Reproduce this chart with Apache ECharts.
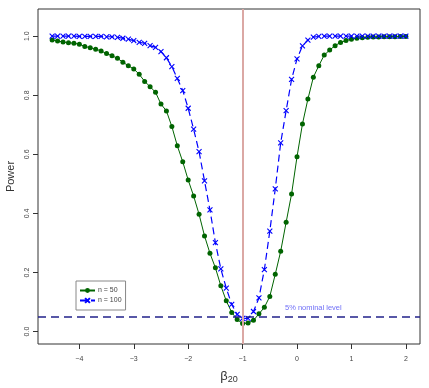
<!DOCTYPE html>
<html>
<head>
<meta charset="utf-8">
<script src="https://cdn.jsdelivr.net/npm/echarts@6/dist/echarts.min.js"></script>
<style>
  html, body { margin: 0; padding: 0; background: #fff; }
  #chart { width: 429px; height: 388px; }
</style>
</head>
<body>
<div id="chart"></div>
<script>
// beta20 grid used in the simulation
const betas = [
  -4.5, -4.4, -4.3, -4.2, -4.1, -4.0, -3.9, -3.8, -3.7, -3.6,
  -3.5, -3.4, -3.3, -3.2, -3.1, -3.0, -2.9, -2.8, -2.7, -2.6,
  -2.5, -2.4, -2.3, -2.2, -2.1, -2.0, -1.9, -1.8, -1.7, -1.6,
  -1.5, -1.4, -1.3, -1.2, -1.1, -1.0, -0.9, -0.8, -0.7, -0.6,
  -0.5, -0.4, -0.3, -0.2, -0.1, 0.0, 0.1, 0.2, 0.3, 0.4,
  0.5, 0.6, 0.7, 0.8, 0.9, 1.0, 1.1, 1.2, 1.3, 1.4,
  1.5, 1.6, 1.7, 1.8, 1.9, 2.0
];

// power, n = 50
const power50 = [
  0.987, 0.984, 0.980, 0.978, 0.976, 0.973, 0.965, 0.961, 0.956, 0.950,
  0.941, 0.934, 0.925, 0.912, 0.900, 0.889, 0.871, 0.847, 0.829, 0.810,
  0.770, 0.747, 0.694, 0.629, 0.575, 0.513, 0.459, 0.397, 0.324, 0.265,
  0.216, 0.155, 0.104, 0.065, 0.041, 0.027, 0.029, 0.038, 0.060, 0.082,
  0.119, 0.194, 0.272, 0.370, 0.466, 0.592, 0.703, 0.787, 0.861, 0.900,
  0.936, 0.953, 0.968, 0.979, 0.985, 0.990, 0.993, 0.995, 0.996, 0.997,
  0.997, 0.998, 0.998, 0.998, 0.999, 0.999
];

// power, n = 100
const power100 = [
  1.000, 1.000, 1.000, 1.000, 1.000, 0.999, 0.999, 0.999, 0.999, 0.999,
  0.998, 0.998, 0.996, 0.993, 0.990, 0.985, 0.979, 0.976, 0.968, 0.962,
  0.948, 0.927, 0.897, 0.857, 0.816, 0.756, 0.685, 0.609, 0.510, 0.412,
  0.301, 0.212, 0.147, 0.092, 0.058, 0.045, 0.045, 0.068, 0.114, 0.210,
  0.340, 0.483, 0.639, 0.748, 0.854, 0.923, 0.967, 0.987, 0.997, 0.999,
  1.000, 1.000, 1.000, 1.000, 1.000, 1.000, 1.000, 1.000, 1.000, 1.000,
  1.000, 1.000, 1.000, 1.000, 1.000, 1.000
];

const xTicks = [-4, -3, -2, -1, 0, 1, 2];
const yTicks = [0, 0.2, 0.4, 0.6, 0.8, 1.0];
const trueBeta = -1;
const nominal = 0.05;
const nominalLabel = '5% nominal level';
const nominalLabelAt = [0.3, 0.079];

const chart = echarts.init(document.getElementById('chart'));
const FONT = '"Liberation Sans", Arial, sans-serif';

const pts = (ys) => betas.map((b, i) => [b, ys[i]]);

chart.setOption({
  animation: false,
  textStyle: { fontFamily: FONT },
  grid: {
    left: 38, right: 9, top: 9, bottom: 44,
    show: true, borderColor: '#333', borderWidth: 1,
    outerBoundsMode: 'none',
  },
  legend: {
    data: ['n = 50', 'n = 100'],
    orient: 'vertical',
    left: 76, top: 281,
    padding: [6, 4, 6, 3],
    itemGap: 3,
    itemWidth: 15, itemHeight: 6,
    borderColor: '#888', borderWidth: 1,
    textStyle: { fontSize: 7, color: '#444', fontFamily: FONT, padding: [0, 0, 0, -2] },
  },
  xAxis: {
    type: 'value', min: -4.76, max: 2.26,
    name: '{b|β}{s|20}', nameLocation: 'middle', nameGap: 24,
    nameTextStyle: {
      rich: {
        b: { fontSize: 13, color: '#333', fontFamily: FONT },
        s: { fontSize: 9, color: '#333', fontFamily: FONT, padding: [7, 0, 0, 0] },
      },
    },
    axisLine: { show: false, onZero: false },
    axisTick: { show: true, length: 5, customValues: xTicks, lineStyle: { color: '#333' } },
    axisLabel: {
      customValues: xTicks, margin: 12, fontSize: 7, color: '#444',
      formatter: (v) => (v < 0 ? '\u2212' + Math.abs(v) : String(v)),
    },
    splitLine: { show: false },
  },
  yAxis: {
    type: 'value', min: -0.042, max: 1.092,
    name: 'Power', nameLocation: 'middle', nameGap: 19,
    nameTextStyle: { fontSize: 11, color: '#333' },
    axisLine: { show: false, onZero: false },
    axisTick: { show: true, length: 5, customValues: yTicks, lineStyle: { color: '#333' } },
    axisLabel: {
      customValues: yTicks, rotate: 90, margin: 7, fontSize: 7, color: '#444',
      formatter: (v) => v.toFixed(1),
    },
    splitLine: { show: false },
  },
  series: [
    {
      name: 'refs', type: 'line', data: [], z: 1, silent: true,
      markLine: {
        symbol: 'none', silent: true, animation: false,
        label: { show: false },
        data: [
          { xAxis: trueBeta, lineStyle: { color: '#dba8a4', width: 2, type: 'solid' } },
          { yAxis: nominal, lineStyle: { color: '#22228a', width: 1.5, type: [8, 5] } },
        ],
      },
    },
    {
      name: 'n = 50', type: 'line', z: 3,
      data: pts(power50),
      symbol: 'circle', symbolSize: 5, showAllSymbol: true,
      lineStyle: { color: '#006400', width: 1 },
      itemStyle: { color: '#006400' },
    },
    {
      name: 'n = 100', type: 'line', z: 3,
      data: pts(power100),
      symbol: 'path://M0,0L10,10M10,0L0,10', symbolSize: 5, showAllSymbol: true,
      lineStyle: { color: '#0000ff', width: 1.2, type: [7, 4] },
      itemStyle: { color: '#0000ff', borderColor: '#0000ff', borderWidth: 1.1 },
    },
    {
      name: 'note', type: 'scatter', z: 4, silent: true,
      data: [nominalLabelAt],
      symbolSize: 0.1,
      label: {
        show: true, position: 'inside', formatter: nominalLabel,
        fontSize: 7.5, color: '#4a4af5', fontFamily: FONT,
      },
    },
  ],
});
</script>
</body>
</html>
